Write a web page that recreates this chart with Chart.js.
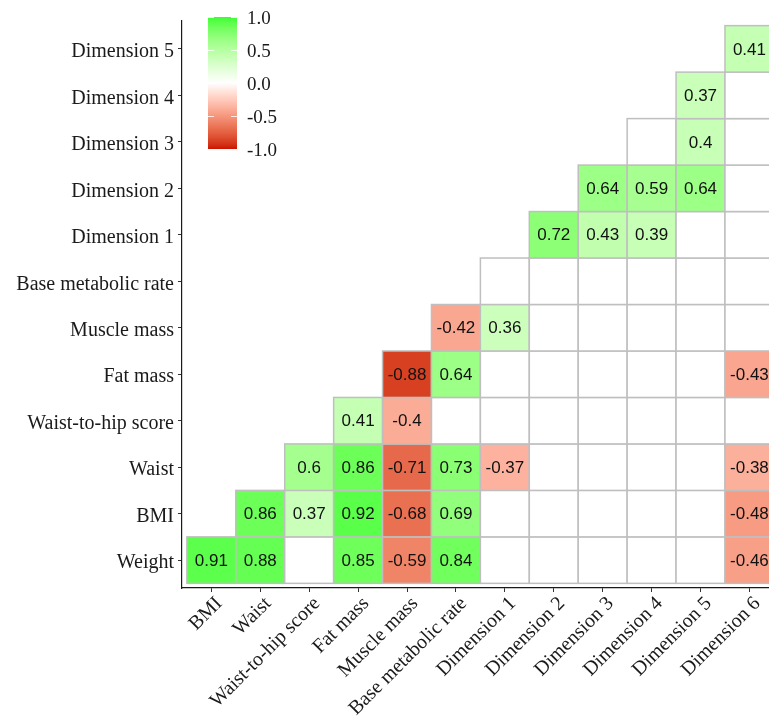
<!DOCTYPE html>
<html>
<head>
<meta charset="utf-8">
<script src="https://cdn.jsdelivr.net/npm/chart.js@4.4.1/dist/chart.umd.min.js"></script>
<style>
  html, body { margin: 0; padding: 0; background: #ffffff; overflow: hidden; }
  #wrap { width: 769px; height: 716px; }
</style>
</head>
<body>
<div id="wrap"><canvas id="corrChart" width="769" height="716"></canvas></div>
<script>
// Etiquetas de ejes
const xLabels = ['BMI', 'Waist', 'Waist-to-hip score', 'Fat mass', 'Muscle mass', 'Base metabolic rate',
    'Dimension 1', 'Dimension 2', 'Dimension 3', 'Dimension 4', 'Dimension 5', 'Dimension 6'];
const yLabels = ['Weight', 'BMI', 'Waist', 'Waist-to-hip score', 'Fat mass', 'Muscle mass',
    'Base metabolic rate', 'Dimension 1', 'Dimension 2', 'Dimension 3', 'Dimension 4', 'Dimension 5'];

// Correlaciones por fila (null = no significativa, celda blanca)
// cada fila j empieza en la columna j
const corrWeight = [0.91, 0.88, null, 0.85, -0.59, 0.84, null, null, null, null, null, -0.46];
const corrBMI = [0.86, 0.37, 0.92, -0.68, 0.69, null, null, null, null, null, -0.48];
const corrWaist = [0.6, 0.86, -0.71, 0.73, -0.37, null, null, null, null, -0.38];
const corrWaistHip = [0.41, -0.4, null, null, null, null, null, null, null];
const corrFat = [-0.88, 0.64, null, null, null, null, null, -0.43];
const corrMuscle = [-0.42, 0.36, null, null, null, null, null];
const corrBMR = [null, null, null, null, null, null];
const corrDim1 = [0.72, 0.43, 0.39, null, null];
const corrDim2 = [0.64, 0.59, 0.64, null];
const corrDim3 = [null, 0.4, null];
const corrDim4 = [0.37, null];
const corrDim5 = [0.41];

// Leyenda de color
const legendTicks = [1.0, 0.5, 0.0, -0.5, -1.0];

const rows = [corrWeight, corrBMI, corrWaist, corrWaistHip, corrFat, corrMuscle,
    corrBMR, corrDim1, corrDim2, corrDim3, corrDim4, corrDim5];

const cells = [];
rows.forEach((row, j) => {
    row.forEach((v, k) => {
        cells.push({ x: j + k, y: j, v: v });
    });
});

// Escala de color (interpolacion en Lab, como gradient2)
const colHigh = '#38ff30';
const colMid = '#ffffff';
const colLow = '#cc1100';

function hexToRgb(h) {
    return [parseInt(h.substr(1, 2), 16), parseInt(h.substr(3, 2), 16), parseInt(h.substr(5, 2), 16)];
}
function toLab(rgb) {
    const lin = rgb.map(c => {
        c = c / 255;
        return c <= 0.04045 ? c / 12.92 : Math.pow((c + 0.055) / 1.055, 2.4);
    });
    const X = (0.4124564 * lin[0] + 0.3575761 * lin[1] + 0.1804375 * lin[2]) / 0.95047;
    const Y = (0.2126729 * lin[0] + 0.7151522 * lin[1] + 0.0721750 * lin[2]);
    const Z = (0.0193339 * lin[0] + 0.1191920 * lin[1] + 0.9503041 * lin[2]) / 1.08883;
    const f = t => t > 0.008856 ? Math.cbrt(t) : 7.787 * t + 16 / 116;
    const fx = f(X), fy = f(Y), fz = f(Z);
    return [116 * fy - 16, 500 * (fx - fy), 200 * (fy - fz)];
}
function fromLab(lab) {
    const fy = (lab[0] + 16) / 116;
    const fx = fy + lab[1] / 500;
    const fz = fy - lab[2] / 200;
    const inv = t => t * t * t > 0.008856 ? t * t * t : (t - 16 / 116) / 7.787;
    const X = inv(fx) * 0.95047, Y = inv(fy), Z = inv(fz) * 1.08883;
    const r = 3.2404542 * X - 1.5371385 * Y - 0.4985314 * Z;
    const g = -0.9692660 * X + 1.8760108 * Y + 0.0415560 * Z;
    const b = 0.0556434 * X - 0.2040259 * Y + 1.0572252 * Z;
    return [r, g, b].map(c => {
        c = c <= 0.0031308 ? 12.92 * c : 1.055 * Math.pow(c, 1 / 2.4) - 0.055;
        return Math.max(0, Math.min(255, Math.round(c * 255)));
    });
}
const labHigh = toLab(hexToRgb(colHigh));
const labMid = toLab(hexToRgb(colMid));
const labLow = toLab(hexToRgb(colLow));

function corrColor(v) {
    if (v === null) return '#ffffff';
    const end = v >= 0 ? labHigh : labLow;
    const t = Math.min(1, Math.abs(v));
    const lab = labMid.map((m, i) => m + (end[i] - m) * t);
    const c = fromLab(lab);
    return 'rgb(' + c[0] + ',' + c[1] + ',' + c[2] + ')';
}

// Dibujar celdas con las escalas del grafico
const tilePlugin = {
    id: 'tiles',
    beforeDatasetsDraw(chart) {
        const ctx = chart.ctx;
        const xs = chart.scales.x;
        const ys = chart.scales.y;
        const area = chart.chartArea;
        ctx.save();
        ctx.beginPath();
        ctx.rect(area.left, area.top, area.right - area.left, area.bottom - area.top);
        ctx.clip();
        cells.forEach(c => {
            const x0 = xs.getPixelForValue(c.x - 0.5);
            const x1 = xs.getPixelForValue(c.x + 0.5);
            const y0 = ys.getPixelForValue(c.y + 0.5);
            const y1 = ys.getPixelForValue(c.y - 0.5);
            ctx.fillStyle = corrColor(c.v);
            ctx.fillRect(x0, y0, x1 - x0, y1 - y0);
            ctx.strokeStyle = '#bfbfbf';
            ctx.lineWidth = 1.5;
            ctx.strokeRect(x0, y0, x1 - x0, y1 - y0);
        });
        ctx.fillStyle = '#111111';
        ctx.font = '17px "Liberation Sans", Arial, sans-serif';
        ctx.textAlign = 'center';
        ctx.textBaseline = 'middle';
        cells.forEach(c => {
            if (c.v === null) return;
            ctx.fillText(String(c.v), xs.getPixelForValue(c.x), ys.getPixelForValue(c.y) + 1);
        });
        ctx.restore();
    }
};

// Barra de color
const colorbarPlugin = {
    id: 'colorbar',
    afterDraw(chart) {
        const ctx = chart.ctx;
        const left = 208, width = 29, top = 17, bottom = 149;
        const valToY = v => top + (1 - v) / 2 * (bottom - top);
        for (let py = top; py < bottom; py++) {
            const v = 1 - 2 * (py + 0.5 - top) / (bottom - top);
            ctx.fillStyle = corrColor(v);
            ctx.fillRect(left, py, width, 1);
        }
        ctx.strokeStyle = 'rgba(255,255,255,0.8)';
        ctx.lineWidth = 1;
        legendTicks.forEach(t => {
            const y = Math.round(valToY(t)) + 0.5;
            ctx.beginPath();
            ctx.moveTo(left, y); ctx.lineTo(left + 6, y);
            ctx.moveTo(left + width - 6, y); ctx.lineTo(left + width, y);
            ctx.stroke();
        });
        ctx.fillStyle = '#1a1a1a';
        ctx.font = '19px "Liberation Serif", serif';
        ctx.textAlign = 'left';
        ctx.textBaseline = 'middle';
        legendTicks.forEach(t => {
            ctx.fillText(t.toFixed(1), 247, valToY(t) + 2.5);
        });
    }
};

const tickFont = { family: '"Liberation Serif", serif', size: 20 };

const ctx = document.getElementById('corrChart').getContext('2d');
const corrChart = new Chart(ctx, {
    type: 'scatter',
    data: {
        datasets: [{
            data: cells,
            pointRadius: 0,
            pointHoverRadius: 0
        }]
    },
    options: {
        responsive: false,
        animation: false,
        events: [],
        layout: { padding: { top: 21, right: 0, left: 0, bottom: 0 } },
        plugins: {
            legend: { display: false },
            tooltip: { enabled: false }
        },
        scales: {
            x: {
                type: 'linear',
                min: -0.6,
                max: 11.4,
                afterBuildTicks: s => { s.ticks = xLabels.map((_, i) => ({ value: i })); },
                afterFit: s => { s.height = 128; s.paddingLeft = 0; s.paddingRight = 0; },
                ticks: {
                    autoSkip: false,
                    minRotation: 45,
                    maxRotation: 45,
                    padding: 0,
                    labelOffset: 8,
                    color: '#1a1a1a',
                    font: tickFont,
                    callback: v => xLabels[Math.round(v)]
                },
                grid: { drawOnChartArea: false, tickLength: 4, color: '#333333', tickWidth: 1 },
                border: { color: '#1a1a1a', width: 1.2 }
            },
            y: {
                type: 'linear',
                min: -0.6,
                max: 11.6,
                afterBuildTicks: s => { s.ticks = yLabels.map((_, i) => ({ value: i })); },
                afterFit: s => { s.width = 182; s.paddingTop = 0; s.paddingBottom = 0; },
                ticks: {
                    autoSkip: false,
                    padding: 4,
                    labelOffset: 3,
                    color: '#1a1a1a',
                    font: tickFont,
                    callback: v => yLabels[Math.round(v)]
                },
                grid: { drawOnChartArea: false, tickLength: 4, color: '#333333', tickWidth: 1 },
                border: { color: '#1a1a1a', width: 1.2 }
            }
        }
    },
    plugins: [tilePlugin, colorbarPlugin]
});
</script>
</body>
</html>
